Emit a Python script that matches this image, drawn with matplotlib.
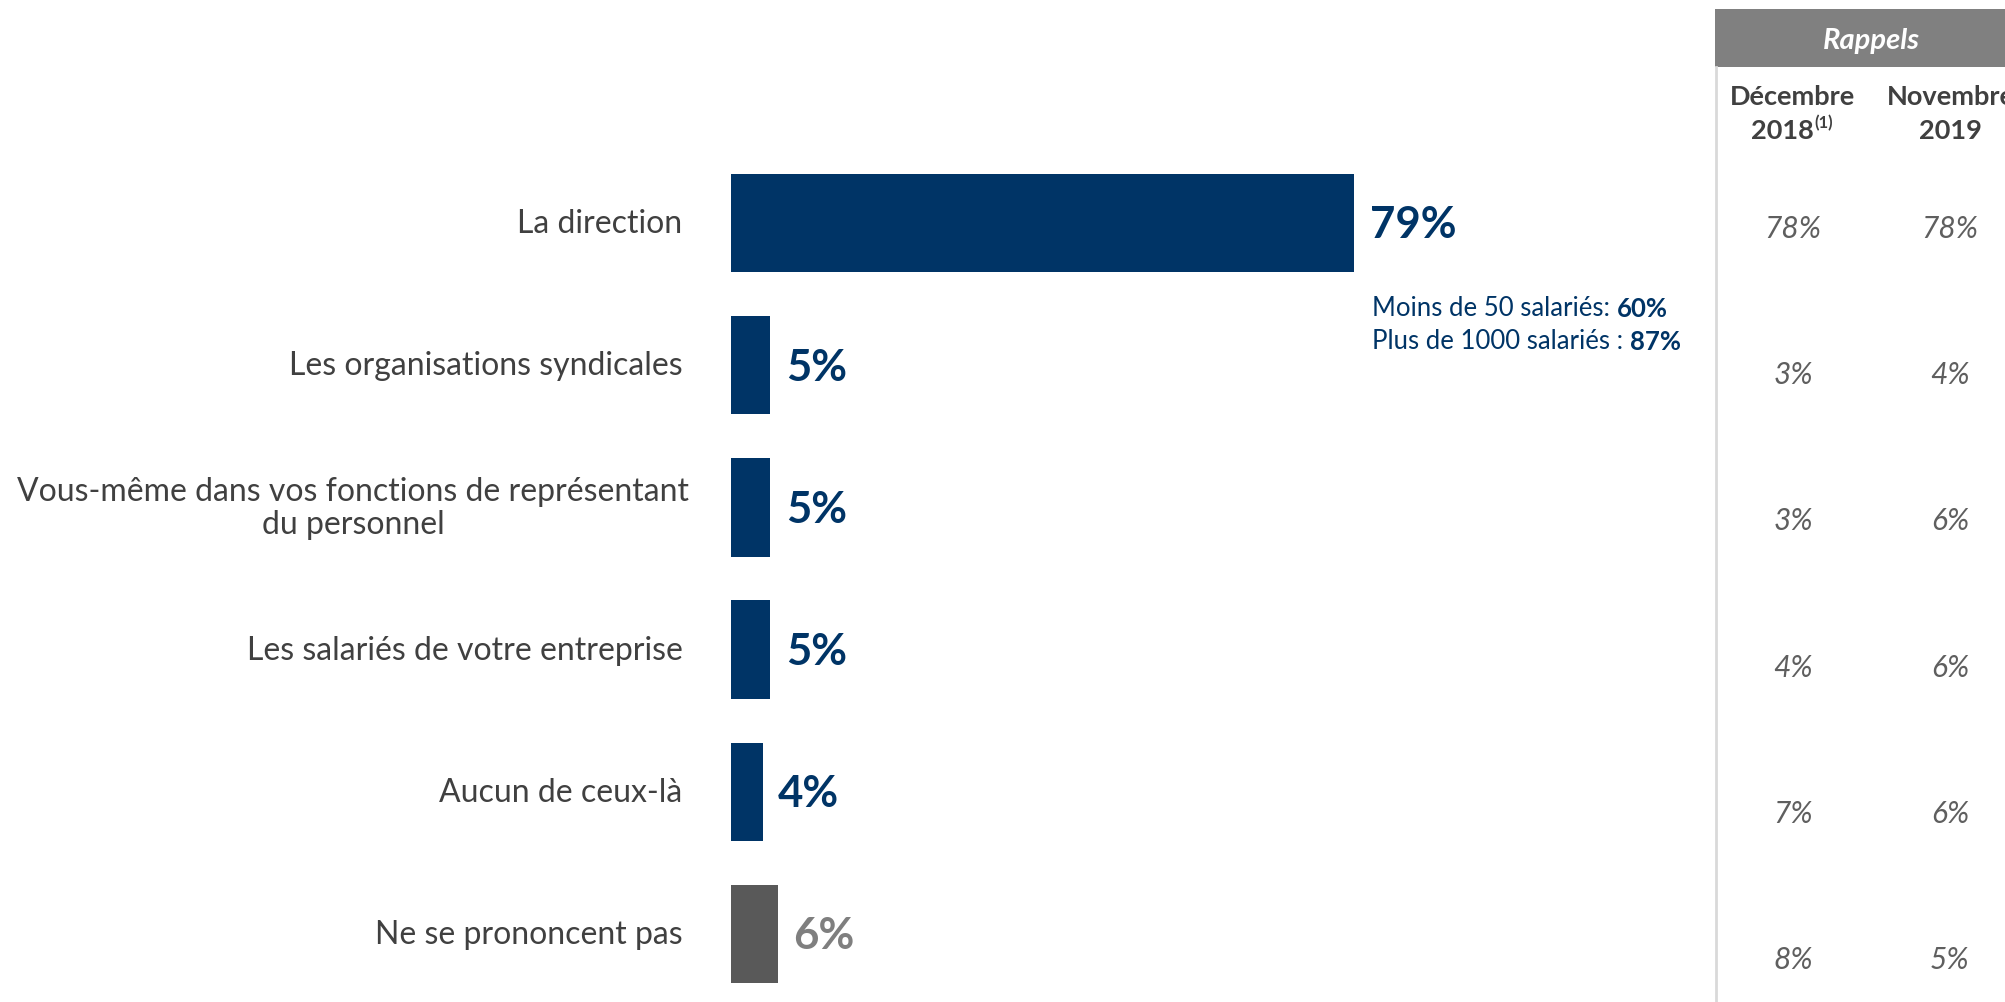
import numpy as np
import matplotlib.pyplot as plt

plt.rcParams['font.family'] = ['Lato', 'DejaVu Sans']

categories = ["La direction",
              "Les organisations syndicales",
              "Vous-même dans vos fonctions de représentant\ndu personnel",
              "Les salariés de votre entreprise",
              "Aucun de ceux-là",
              "Ne se prononcent pas"]
values = [79, 5, 5, 5, 4, 6]
dec_2018 = [78, 3, 3, 4, 7, 8]
nov_2019 = [78, 4, 6, 6, 6, 5]
sub_labels = ["Moins de 50 salariés: ", "Plus de 1000 salariés : "]
sub_values = [60, 87]

navy = "#003466"
grey_bar = "#595959"
grey_txt = "#7f7f7f"
dark_txt = "#404040"

W, H = 2005, 1003
fig = plt.figure(figsize=(W / 100, H / 100), dpi=100)

# bar area: starts at x=731 px, 7.89 px per percent
x0, x1 = 731, 1715
ax = fig.add_axes([x0 / W, 0, (x1 - x0) / W, 1])
ax.set_xlim(0, (x1 - x0) / 7.89)
step, c0 = 142.2, 224
ax.set_ylim((H - c0) / step, -c0 / step)
ax.axis('off')

y = np.arange(len(values))
colors = [navy] * (len(values) - 1) + [grey_bar]
ax.barh(y, values, height=0.693, color=colors)

for i, v in enumerate(values):
    tc = grey_txt if i == len(values) - 1 else navy
    ax.annotate(f"{v}%", (v, i), xytext=(11, -1), textcoords='offset points',
                ha='left', va='center', fontsize=31.5, fontweight='bold', color=tc)
    dx = -30 if "\n" in categories[i] else -35
    ax.annotate(categories[i], (0, i), xytext=(dx, 0), textcoords='offset points',
                ha='right', va='center', multialignment='center',
                fontsize=23, color=dark_txt, linespacing=1.1)

# detail under the first bar
for k, (lab, v) in enumerate(zip(sub_labels, sub_values)):
    t = ax.annotate(lab, (values[0], 0), xytext=(13, -66 - 24 * k),
                    textcoords='offset points', ha='left', va='baseline',
                    fontsize=18.5, color=navy)
    ax.annotate(f"{v}%", (1, 0), xycoords=t, ha='left', va='bottom',
                fontsize=18.5, fontweight='bold', color=navy)

# "Rappels" side table
tx = fig.add_axes([x1 / W, 0, (W - x1) / W, 1])
tx.set_xlim(0, W - x1)
tx.set_ylim(H, 0)
tx.axis('off')
tx.add_patch(plt.Rectangle((0, 10), W - x1, 58, color="#808080", lw=0))
tx.text(156, 41, "Rappels", ha='center', va='center', color='white',
        fontsize=21, fontweight='bold', style='italic')
tx.plot([1, 1], [68, H], color="#d9d9d9", lw=2)

col_x = [78, 235]
tx.text(col_x[0], 97, "Décembre", ha='center', va='center', fontsize=19.5,
        fontweight='bold', color=dark_txt)
t18 = tx.text(67, 131, "2018", ha='center', va='center', fontsize=19.5,
              fontweight='bold', color=dark_txt)
tx.annotate("(1)", (1, 0.5), xycoords=t18, xytext=(1, 0), textcoords='offset points',
            ha='left', va='bottom', fontsize=12, fontweight='bold', color=dark_txt)
tx.text(172, 97, "Novembre", ha='left', va='center', fontsize=19.5,
        fontweight='bold', color=dark_txt)
tx.text(col_x[1], 131, "2019", ha='center', va='center', fontsize=19.5,
        fontweight='bold', color=dark_txt)

row_step, r0 = 146.2, 229
for i in range(len(values)):
    for cx, serie in zip(col_x, [dec_2018, nov_2019]):
        tx.text(cx, r0 + row_step * i, f"{serie[i]}%", ha='center', va='center',
                fontsize=21.5, style='italic', color="#5f5f5f")

fig.savefig("out.png", dpi=100)
